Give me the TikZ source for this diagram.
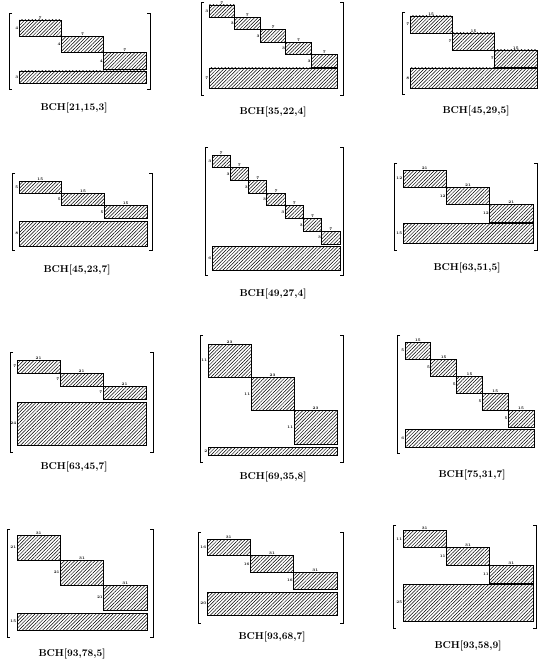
\documentclass[tikz,border=0pt]{standalone}
\usepackage{tikz}
\usetikzlibrary{patterns.meta, positioning}

\begin{document}
\begin{tikzpicture}[
    x=1pt, y=-1pt,
    blk/.style={draw, line width=0.9pt, pattern={Lines[angle=45, distance=2.4pt, line width=0.5pt]}},
    brk/.style={line width=0.6pt},
    sz/.style={font=\bfseries\fontsize{3.8}{4}\selectfont, inner sep=0.6pt},
    captxt/.style={font=\bfseries\fontsize{10}{11}\selectfont},
]
\useasboundingbox (0,0) rectangle (539,666);
% ============================================================
% one panel per code: blocks x0,x1, staircase y0,ys, tail yc,yd,
% brackets xl,xr,yt,yb, caption at (cx,cy), sizes top/left/tail
% ============================================================
\foreach \i/\xa/\xb/\ya/\ys/\yc/\yd/\xl/\xr/\yt/\yb/\cx/\cy/\nb/\tlb/\lfl/\blb/\cn/\ck/\cd in {
     1/19/146/20/69/71/83/9/150/13/89/74/108/3/7/4/3/21/15/3,
     2/209/337/5/67/68/88/201/343/2/95/273/112/5/7/3/7/35/22/4,
     3/410/537/16/67/68/88/402/0/12/94/476/111/3/15/7/8/45/29/5,
     4/19/147/181/218/221/246/12/152/173/250/77/270/3/15/5/8/45/23/7,
     5/212/340/155/244/246/270/205/343/147/275/273/294/7/7/3/6/49/27/4,
     6/403/533/170/222/223/243/394/537/163/250/467/268/3/21/12/15/63/51/5,
     7/17/146/360/399/402/445/10/153/352/452/74/467/3/21/7/24/63/45/7,
     8/208/337/344/444/447/455/200/343/335/462/273/477/3/23/11/2/69/35/8,
     9/405/534/342/427/429/447/397/0/335/453/472/475/5/15/5/6/75/31/7,
    10/17/147/535/610/613/630/7/153/529/637/72/654/3/31/21/15/93/78/5,
    11/207/337/539/589/592/615/198/343/532/623/272/637/3/31/16/20/93/68/7,
    12/403/533/530/583/584/621/393/536/525/628/468/646/3/31/11/25/93/58/9} {
    \pgfmathsetmacro{\bw}{(\xb-\xa)/\nb}
    \pgfmathsetmacro{\bh}{(\ys-\ya)/\nb}
    % staircase
    \foreach \j in {1,...,\nb} {
        \draw[blk] ({\xa+(\j-1)*\bw},{\ya+(\j-1)*\bh}) rectangle ++(\bw,\bh);
        \node[sz, anchor=south] (top\i-\j) at ({\xa+(\j-0.5)*\bw},{\ya+(\j-1)*\bh}) {\tlb};
        \node[sz, anchor=east] (left\i-\j) at ({\xa+(\j-1)*\bw},{\ya+(\j-0.5)*\bh}) {\lfl};
    }
    % tail block
    \draw[blk] (\xa,\yc) rectangle (\xb,\yd);
    \node[sz, anchor=east] (tail\i) at (\xa,{(\yc+\yd)/2}) {\blb};
    % brackets
    \draw[brk] (\xl+3,\yt) -- (\xl,\yt) -- (\xl,\yb) -- (\xl+3,\yb);
    \ifnum\xr>0
        \draw[brk] (\xr-3,\yt) -- (\xr,\yt) -- (\xr,\yb) -- (\xr-3,\yb);
    \fi
    % caption
    \node[captxt] (cap\i) at (\cx,\cy) {BCH[\cn,\ck,\cd]};
}
\end{tikzpicture}
\end{document}
